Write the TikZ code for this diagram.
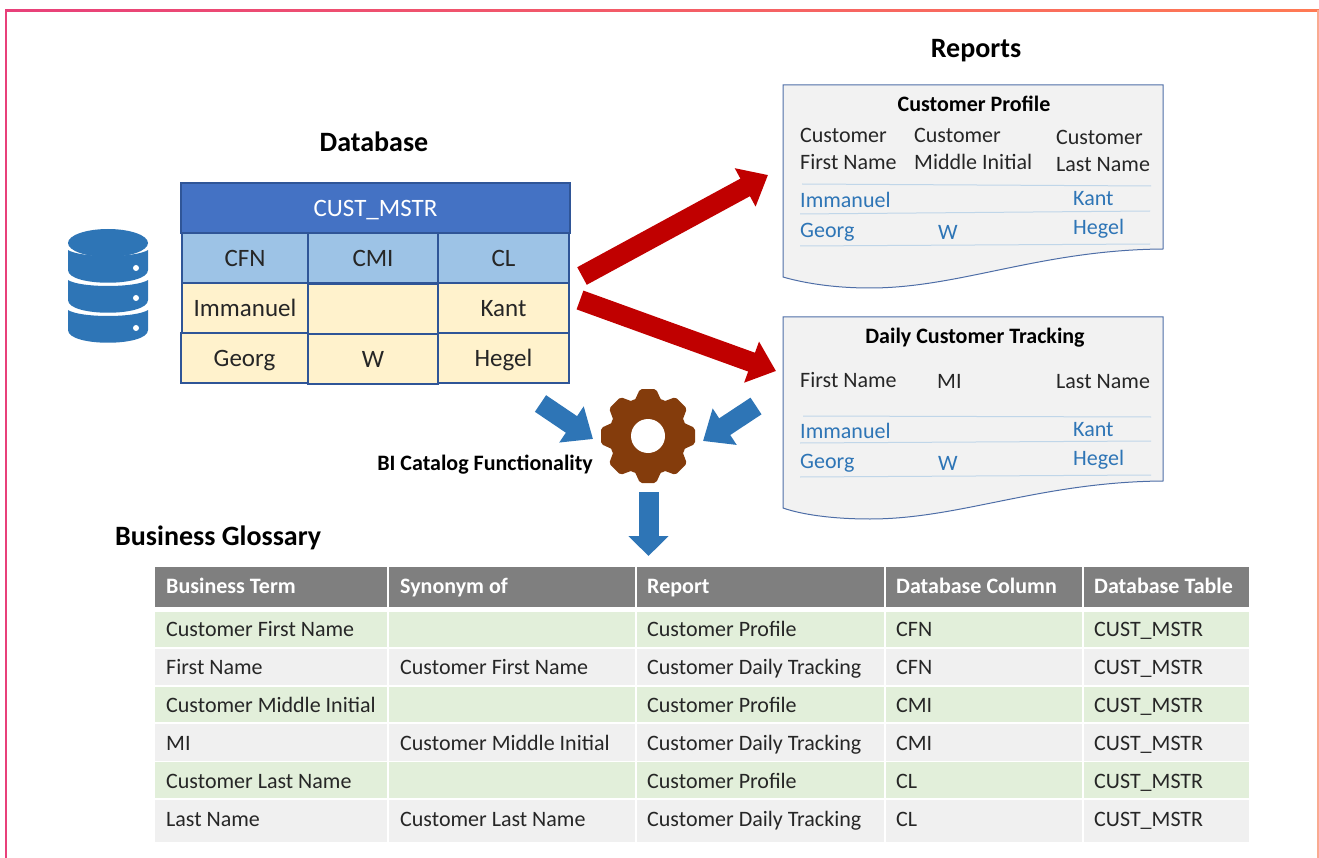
\documentclass[tikz,border=0pt]{standalone}
\usepackage{fontspec}
\setmainfont{Carlito}
\usetikzlibrary{arrows.meta}
\definecolor{inktext}{HTML}{262626}
\definecolor{linkblue}{HTML}{2E75B6}
\definecolor{frameblue}{HTML}{2F5597}
\definecolor{framepink}{HTML}{E8407A}
\definecolor{frameorange}{HTML}{FF7A54}
\definecolor{framepeach}{HTML}{FAAA91}
\tikzset{
  evenline/.style = {text height = 15pt, text depth = 0pt},
  heading/.style = {text height = 19pt, text depth = 0pt, font = \fontsize{28}{33}\selectfont\bfseries, text = black},
  cellbox/.style = {text height = 17pt, text depth = 0pt, draw = frameblue, line width = 1.2pt, outer sep = 0pt, anchor = north west, inner sep = 0pt,
    font = \fontsize{25}{30}\selectfont, text = inktext},
  docpage/.style = {draw = frameblue!85, line width = 1pt, fill = black!5},
  doctitle/.style = {evenline, font = \fontsize{22}{26}\selectfont\bfseries, text = black},
  doctext/.style = {evenline, anchor = west, inner sep = 0pt, font = \fontsize{22}{26}\selectfont, text = inktext},
  docvalue/.style = {doctext, text = linkblue},
  docrule/.style = {draw = linkblue!30, line width = 1pt},
  bigarrow/.style = {line width = 20pt, -{Triangle[length = 26pt, width = 42pt]}},
  glosshead/.style = {evenline, anchor = west, inner sep = 0pt, font = \fontsize{22}{26}\selectfont\bfseries, text = white},
  glosstext/.style = {evenline, anchor = west, inner sep = 0pt, font = \fontsize{22}{26}\selectfont, text = inktext}
}
\begin{document}
\begin{tikzpicture}[x = 1pt, y = -1pt]
\useasboundingbox (0, 0) rectangle (1319, 858);
% frame
\shade[left color = framepink, right color = frameorange] (5, 10) rectangle (1319, 12);
\fill[framepink] (5, 10) rectangle (7, 858);
\fill[framepeach] (1317, 10) rectangle (1319, 858);
% database icon
\definecolor{col}{HTML}{2E75B6}
\fill[col] (108, 243) ellipse (40pt and 14pt);
\fill[col] (68, 250) .. controls (80, 258) and (136, 258) .. (148, 250) -- (148, 270) .. controls (148, 287) and (68, 287) .. (68, 270) -- cycle;
\fill[col] (68, 280) .. controls (80, 288) and (136, 288) .. (148, 280) -- (148, 300) .. controls (148, 317) and (68, 317) .. (68, 300) -- cycle;
\fill[col] (68, 310) .. controls (80, 318) and (136, 318) .. (148, 310) -- (148, 330) .. controls (148, 347) and (68, 347) .. (68, 330) -- cycle;
\fill[white] (136, 268) circle (3pt) (136, 298) circle (3pt) (136, 328) circle (3pt);
% database table
\node[heading] (databaseTitle) at (374, 142) {Database};
\definecolor{col}{HTML}{4472C4}
\node[cellbox, fill = col, text = white, minimum width = 389pt, minimum height = 50pt] (custMstr) at (181, 183) {CUST\_MSTR};
\definecolor{col}{HTML}{9DC3E6}
\node[cellbox, fill = col, minimum width = 126pt, minimum height = 50pt] (colCfn) at (182, 233) {CFN};
\node[cellbox, fill = col, minimum width = 130pt, minimum height = 50pt] (colCmi) at (308, 233) {CMI};
\node[cellbox, fill = col, minimum width = 131pt, minimum height = 50pt] (colCl) at (438, 233) {CL};
\definecolor{col}{HTML}{FFF2CC}
\node[cellbox, fill = col, minimum width = 126pt, minimum height = 50pt] (cellFirstA) at (182, 283) {Immanuel};
\node[cellbox, fill = col, minimum width = 130pt, minimum height = 50pt] (cellMiddleA) at (308, 284) {};
\node[cellbox, fill = col, minimum width = 131pt, minimum height = 50pt] (cellLastA) at (438, 283) {Kant};
\node[cellbox, fill = col, minimum width = 127pt, minimum height = 50pt] (cellFirstB) at (181, 333) {Georg};
\node[cellbox, fill = col, minimum width = 130pt, minimum height = 50pt] (cellMiddleB) at (308, 334) {W};
\node[cellbox, fill = col, minimum width = 131pt, minimum height = 50pt] (cellLastB) at (438, 333) {Hegel};
% reports
\node[heading] (reportsTitle) at (976, 48) {Reports};
\draw[docpage] (783, 85) -- (1163, 85) -- (1163, 249) .. controls (1040, 250) and (960, 288) .. (870, 288) .. controls (830, 288) and (800, 282) .. (783, 277) -- cycle;
\node[doctitle] (profileTitle) at (974, 104) {Customer Profile};
\node[doctext] (profileFirstA) at (800, 135) {Customer};
\node[doctext] (profileFirstB) at (800, 162) {First Name};
\node[doctext] (profileMiddleA) at (914, 135) {Customer};
\node[doctext] (profileMiddleB) at (914, 162) {Middle Initial};
\node[doctext] (profileLastA) at (1056, 137) {Customer};
\node[doctext] (profileLastB) at (1056, 164) {Last Name};
\draw[docrule] (802, 184) -- (1151, 186);
\draw[docrule] (800, 214) -- (1150, 211);
\draw[docrule] (800, 246) -- (1150, 244);
\node[docvalue] (profileImmanuel) at (800, 200) {Immanuel};
\node[docvalue] (profileKant) at (1073, 198) {Kant};
\node[docvalue] (profileGeorg) at (800, 230) {Georg};
\node[docvalue] (profileW) at (938, 232) {W};
\node[docvalue] (profileHegel) at (1073, 227) {Hegel};
\draw[docpage] (783, 317) -- (1163, 317) -- (1163, 481) .. controls (1040, 482) and (960, 519) .. (870, 519) .. controls (830, 519) and (800, 514) .. (783, 508) -- cycle;
\node[doctitle] (dailyTitle) at (975, 336) {Daily Customer Tracking};
\node[doctext] (dailyFirst) at (800, 380) {First Name};
\node[doctext] (dailyMiddle) at (937, 381) {MI};
\node[doctext] (dailyLast) at (1056, 381) {Last Name};
\draw[docrule] (803, 416) -- (1151, 417);
\draw[docrule] (800, 443) -- (1151, 441);
\draw[docrule] (800, 477) -- (1151, 475);
\node[docvalue] (dailyImmanuel) at (800, 431) {Immanuel};
\node[docvalue] (dailyKant) at (1073, 429) {Kant};
\node[docvalue] (dailyGeorg) at (800, 461) {Georg};
\node[docvalue] (dailyW) at (938, 463) {W};
\node[docvalue] (dailyHegel) at (1073, 458) {Hegel};
% gear
\definecolor{col}{HTML}{843C0C}
\fill[col] (648, 436) circle (39pt);
\foreach \a in {0, 45, ..., 315} {
  \fill[col, rounded corners = 2pt, rotate around = {\a:(648, 436)}] (634, 402) -- (640, 389) -- (656, 389) -- (662, 402) -- cycle;
}
\node[circle, fill = white, minimum size = 34pt, inner sep = 0pt] (gearHole) at (648, 436) {};
\node[evenline, anchor = east, inner sep = 0pt, font = \fontsize{22}{26}\selectfont\bfseries, text = black] (catalogLabel) at (593, 463) {BI Catalog Functionality};
% arrows
\coordinate (redUpTail) at (582, 276);
\coordinate (redUpTip) at (768, 175);
\coordinate (redDownTail) at (580, 300);
\coordinate (redDownTip) at (776, 371);
\definecolor{col}{HTML}{C00000}
\draw[bigarrow, col] (redUpTail) -- (redUpTip);
\draw[bigarrow, col] (redDownTail) -- (redDownTip);
\coordinate (blueLeftTail) at (540.5, 403.5);
\coordinate (blueLeftTip) at (593, 439);
\coordinate (blueRightTail) at (756, 406);
\coordinate (blueRightTip) at (703, 441);
\coordinate (blueDownTail) at (648.5, 492);
\coordinate (blueDownTip) at (648.5, 556);
\definecolor{col}{HTML}{2E75B6}
\draw[bigarrow, col] (blueLeftTail) -- (blueLeftTip);
\draw[bigarrow, col] (blueRightTail) -- (blueRightTip);
\draw[bigarrow, col, -{Triangle[length = 20pt, width = 39pt]}] (blueDownTail) -- (blueDownTip);
% glossary
\node[heading, anchor = west, inner sep = 0pt] (glossaryTitle) at (115, 536) {Business Glossary};
\definecolor{col}{HTML}{7F7F7F}
\fill[col] (155, 567) rectangle (387, 607) (166, 586) node[glosshead] (headTerm) {Business Term};
\fill[col] (389, 567) rectangle (635, 607) (400, 586) node[glosshead] (headSynonym) {Synonym of};
\fill[col] (637, 567) rectangle (884, 607) (647, 586) node[glosshead] (headReport) {Report};
\fill[col] (886, 567) rectangle (1082, 607) (896, 586) node[glosshead] (headColumn) {Database Column};
\fill[col] (1084, 567) rectangle (1249, 607) (1094, 586) node[glosshead] (headTable) {Database Table};
\definecolor{col}{HTML}{E2EFDA}
\fill[col] (155, 612) rectangle (387, 647) (166, 629) node[glosstext] (termA) {Customer First Name};
\fill[col] (389, 612) rectangle (635, 647);
\fill[col] (637, 612) rectangle (884, 647) (647, 629) node[glosstext] (reportA) {Customer Profile};
\fill[col] (886, 612) rectangle (1082, 647) (896, 629) node[glosstext] (columnA) {CFN};
\fill[col] (1084, 612) rectangle (1249, 647) (1094, 629) node[glosstext] (tableA) {CUST\_MSTR};
\definecolor{col}{HTML}{F0F0F0}
\fill[col] (155, 649) rectangle (387, 685) (166, 667) node[glosstext] (termB) {First Name};
\fill[col] (389, 649) rectangle (635, 685) (400, 667) node[glosstext] (synonymB) {Customer First Name};
\fill[col] (637, 649) rectangle (884, 685) (647, 667) node[glosstext] (reportB) {Customer Daily Tracking};
\fill[col] (886, 649) rectangle (1082, 685) (896, 667) node[glosstext] (columnB) {CFN};
\fill[col] (1084, 649) rectangle (1249, 685) (1094, 667) node[glosstext] (tableB) {CUST\_MSTR};
\definecolor{col}{HTML}{E2EFDA}
\fill[col] (155, 687) rectangle (387, 722) (166, 705) node[glosstext] (termC) {Customer Middle Initial};
\fill[col] (389, 687) rectangle (635, 722);
\fill[col] (637, 687) rectangle (884, 722) (647, 705) node[glosstext] (reportC) {Customer Profile};
\fill[col] (886, 687) rectangle (1082, 722) (896, 705) node[glosstext] (columnC) {CMI};
\fill[col] (1084, 687) rectangle (1249, 722) (1094, 705) node[glosstext] (tableC) {CUST\_MSTR};
\definecolor{col}{HTML}{F0F0F0}
\fill[col] (155, 724) rectangle (387, 761) (166, 743) node[glosstext] (termD) {MI};
\fill[col] (389, 724) rectangle (635, 761) (400, 743) node[glosstext] (synonymD) {Customer Middle Initial};
\fill[col] (637, 724) rectangle (884, 761) (647, 743) node[glosstext] (reportD) {Customer Daily Tracking};
\fill[col] (886, 724) rectangle (1082, 761) (896, 743) node[glosstext] (columnD) {CMI};
\fill[col] (1084, 724) rectangle (1249, 761) (1094, 743) node[glosstext] (tableD) {CUST\_MSTR};
\definecolor{col}{HTML}{E2EFDA}
\fill[col] (155, 762) rectangle (387, 798) (166, 781) node[glosstext] (termE) {Customer Last Name};
\fill[col] (389, 762) rectangle (635, 798);
\fill[col] (637, 762) rectangle (884, 798) (647, 781) node[glosstext] (reportE) {Customer Profile};
\fill[col] (886, 762) rectangle (1082, 798) (896, 781) node[glosstext] (columnE) {CL};
\fill[col] (1084, 762) rectangle (1249, 798) (1094, 781) node[glosstext] (tableE) {CUST\_MSTR};
\definecolor{col}{HTML}{F0F0F0}
\fill[col] (155, 800) rectangle (387, 842) (166, 819) node[glosstext] (termF) {Last Name};
\fill[col] (389, 800) rectangle (635, 842) (400, 819) node[glosstext] (synonymF) {Customer Last Name};
\fill[col] (637, 800) rectangle (884, 842) (647, 819) node[glosstext] (reportF) {Customer Daily Tracking};
\fill[col] (886, 800) rectangle (1082, 842) (896, 819) node[glosstext] (columnF) {CL};
\fill[col] (1084, 800) rectangle (1249, 842) (1094, 819) node[glosstext] (tableF) {CUST\_MSTR};
\end{tikzpicture}
\end{document}
